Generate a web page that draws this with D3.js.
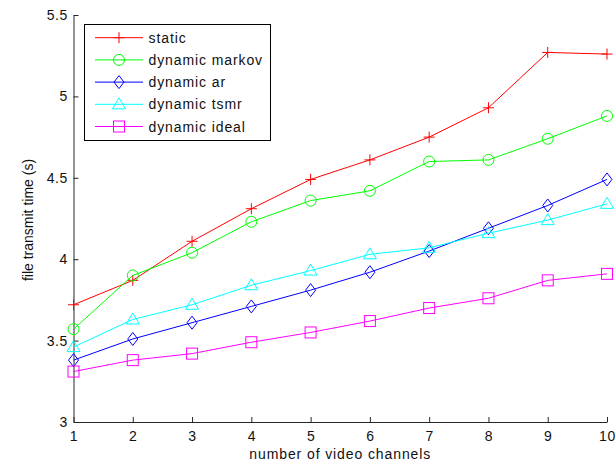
<!DOCTYPE html>
<html><head><meta charset="utf-8">
<script src="https://cdn.jsdelivr.net/npm/d3@7"></script>
<style>body{margin:0;background:#fff}svg{display:block}text{font-family:"Liberation Sans",Arial,sans-serif}</style>
</head><body><svg id="c" width="616" height="471"></svg>
<script>
const channels = [1,2,3,4,5,6,7,8,9,10];
const staticVals = [3.72,3.87,4.11,4.31,4.49,4.61,4.75,4.93,5.27,5.26];
const markovVals = [3.57,3.90,4.04,4.23,4.36,4.42,4.60,4.61,4.74,4.88];
const arVals     = [3.38,3.51,3.61,3.71,3.81,3.92,4.05,4.19,4.33,4.49];
const tsmrVals   = [3.46,3.63,3.72,3.84,3.93,4.03,4.07,4.16,4.24,4.34];
const idealVals  = [3.31,3.38,3.42,3.49,3.55,3.62,3.70,3.76,3.87,3.91];
const seriesNames = ["static","dynamic markov","dynamic ar","dynamic tsmr","dynamic ideal"];
const seriesColors = ["#ff0000","#00ff00","#0000ff","#00ffff","#ff00ff"];
const seriesMarkers = ["plus","circle","diamond","triangle","square"];
const yTicks = [3,3.5,4,4.5,5,5.5];
const xLabel = "number of video channels";
const yLabel = "file transmit time (s)";

const series = [staticVals,markovVals,arVals,tsmrVals,idealVals].map((v,i)=>({name:seriesNames[i],color:seriesColors[i],marker:seriesMarkers[i],values:v}));

const svg = d3.select("#c");
const L=73.5, R=607, T=15, B=422;
const x = d3.scaleLinear().domain([1,10]).range([L,R]);
const y = d3.scaleLinear().domain([3,5.5]).range([B,T]);
const FS = "14px", LS = "0.9px";

function drawMarker(g, type, color){
  const s=5.5;
  if(type==="plus"){
    g.append("path").attr("d",`M${-s},0H${s}M0,${-s}V${s}`).attr("stroke",color).attr("fill","none").attr("stroke-width",1);
  } else if(type==="circle"){
    g.append("circle").attr("r",5.5).attr("stroke",color).attr("fill","none").attr("stroke-width",1);
  } else if(type==="diamond"){
    g.append("path").attr("d",`M0,${-6.5}L${5},0L0,${6.5}L${-5},0Z`).attr("stroke",color).attr("fill","none").attr("stroke-width",1);
  } else if(type==="triangle"){
    g.append("path").attr("d",`M0,${-6.5}L${6.5},${4.5}L${-6.5},${4.5}Z`).attr("stroke",color).attr("fill","none").attr("stroke-width",1);
  } else if(type==="square"){
    g.append("rect").attr("x",-5.5).attr("y",-5.5).attr("width",11).attr("height",11).attr("stroke",color).attr("fill","none").attr("stroke-width",1);
  }
}

// axes
const xAxis = d3.axisBottom(x).tickValues(channels).tickFormat(d3.format("d")).tickSizeInner(-5).tickSizeOuter(0).tickPadding(9);
const gx = svg.append("g").attr("transform",`translate(0,${B})`).call(xAxis);
const yAxis = d3.axisLeft(y).tickValues(yTicks).tickFormat(d=>String(d)).tickSizeInner(-5).tickSizeOuter(0).tickPadding(5.5);
const gy = svg.append("g").attr("transform",`translate(${L},0)`).call(yAxis);
[gx,gy].forEach(g=>{
  g.selectAll("path.domain").attr("stroke","#262626");
  g.selectAll("line").attr("stroke","#262626");
  g.selectAll("text").attr("font-size",FS).attr("letter-spacing","0.6px").attr("fill","#111").attr("font-family","Liberation Sans, Arial, sans-serif");
});

svg.append("text").attr("x",(L+R)/2+0).attr("y",459).attr("text-anchor","middle").attr("font-size",FS).attr("letter-spacing",LS).attr("fill","#111").text(xLabel);
svg.append("text").attr("transform",`translate(33,${220}) rotate(-90)`).attr("text-anchor","middle").attr("font-size",FS).attr("fill","#111").text(yLabel);

const line = d3.line().x((d,i)=>x(channels[i])).y(d=>y(d));
series.forEach(s=>{
  svg.append("path").datum(s.values).attr("d",line).attr("stroke",s.color).attr("fill","none").attr("stroke-width",1);
  s.values.forEach((v,i)=>{
    const g=svg.append("g").attr("transform",`translate(${x(channels[i])},${y(v)})`);
    drawMarker(g,s.marker,s.color);
  });
});

// legend
const lg = svg.append("g");
lg.append("rect").attr("x",84.5).attr("y",24.5).attr("width",186).attr("height",116).attr("fill","#fff").attr("stroke","#000").attr("stroke-width",1);
series.forEach((s,i)=>{
  const yy = 37.7 + i*22.2;
  lg.append("line").attr("x1",95).attr("x2",143).attr("y1",yy).attr("y2",yy).attr("stroke",s.color).attr("stroke-width",1);
  const g = lg.append("g").attr("transform",`translate(119,${yy})`);
  drawMarker(g,s.marker,s.color);
  lg.append("text").attr("x",148.5).attr("y",yy+5).attr("font-size",FS).attr("letter-spacing",LS).attr("fill","#111").text(s.name);
});
</script></body></html>
